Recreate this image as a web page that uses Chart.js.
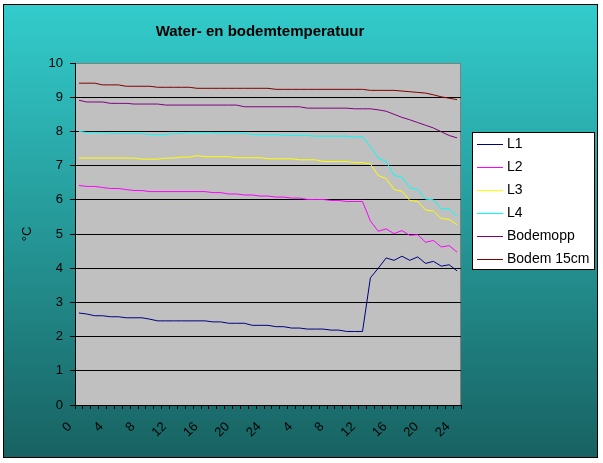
<!DOCTYPE html>
<html>
<head>
<meta charset="utf-8">
<title>Water- en bodemtemperatuur</title>
<script src="https://cdn.jsdelivr.net/npm/chart.js@4.4.0/dist/chart.umd.min.js"></script>
<style>
    body { margin: 0; background: #ffffff; }
    canvas { display: block; }
</style>
</head>
<body>
<canvas id="temp-chart" width="603" height="463"></canvas>
<script>
// uren over twee dagen
const hours = [0, 1, 2, 3, 4, 5, 6, 7, 8, 9, 10, 11, 12, 13, 14, 15, 16, 17, 18, 19, 20, 21, 22, 23, 24,
    1, 2, 3, 4, 5, 6, 7, 8, 9, 10, 11, 12, 13, 14, 15, 16, 17, 18, 19, 20, 21, 22, 23, 24];

const l1 = [2.69, 2.66, 2.61, 2.61, 2.58, 2.58, 2.55, 2.55, 2.55, 2.51,
    2.46, 2.46, 2.46, 2.46, 2.46, 2.46, 2.46, 2.43, 2.43, 2.39,
    2.39, 2.39, 2.33, 2.33, 2.33, 2.29, 2.29, 2.25, 2.25, 2.22,
    2.22, 2.22, 2.19, 2.19, 2.15, 2.15, 2.15, 3.72, 4.00, 4.30,
    4.23, 4.35, 4.23, 4.33, 4.14, 4.20, 4.06, 4.10, 3.92];

const l2 = [6.42, 6.39, 6.39, 6.36, 6.33, 6.33, 6.30, 6.27, 6.27, 6.24,
    6.24, 6.24, 6.24, 6.24, 6.24, 6.24, 6.24, 6.21, 6.21, 6.17,
    6.17, 6.14, 6.14, 6.11, 6.11, 6.08, 6.08, 6.05, 6.05, 6.01,
    6.01, 6.01, 5.98, 5.98, 5.95, 5.95, 5.95, 5.38, 5.08, 5.15,
    5.01, 5.10, 4.96, 4.98, 4.76, 4.81, 4.62, 4.66, 4.47];

const l3 = [7.22, 7.22, 7.22, 7.22, 7.22, 7.22, 7.22, 7.22, 7.19, 7.19,
    7.19, 7.22, 7.22, 7.25, 7.25, 7.29, 7.26, 7.26, 7.26, 7.26,
    7.23, 7.23, 7.23, 7.23, 7.20, 7.20, 7.20, 7.20, 7.17, 7.17,
    7.17, 7.12, 7.12, 7.12, 7.12, 7.09, 7.09, 7.05, 6.71, 6.62,
    6.30, 6.25, 5.98, 5.95, 5.70, 5.67, 5.45, 5.43, 5.27];

const l4 = [8.00, 7.97, 7.97, 7.97, 7.94, 7.94, 7.94, 7.94, 7.94, 7.91,
    7.91, 7.91, 7.94, 7.94, 7.97, 7.97, 7.97, 7.97, 7.95, 7.95,
    7.95, 7.95, 7.91, 7.91, 7.91, 7.91, 7.88, 7.88, 7.88, 7.88,
    7.86, 7.86, 7.86, 7.86, 7.86, 7.83, 7.85, 7.55, 7.22, 7.12,
    6.71, 6.67, 6.35, 6.30, 6.02, 6.00, 5.74, 5.73, 5.52];

const bodemopp = [8.91, 8.86, 8.86, 8.86, 8.82, 8.82, 8.82, 8.80, 8.80, 8.80,
    8.80, 8.77, 8.77, 8.77, 8.77, 8.77, 8.77, 8.77, 8.77, 8.77,
    8.77, 8.72, 8.72, 8.72, 8.72, 8.72, 8.72, 8.72, 8.72, 8.68,
    8.68, 8.68, 8.68, 8.68, 8.68, 8.66, 8.66, 8.66, 8.63, 8.59,
    8.50, 8.41, 8.34, 8.26, 8.18, 8.10, 7.99, 7.88, 7.81];

const bodem15 = [9.41, 9.41, 9.41, 9.36, 9.36, 9.36, 9.32, 9.32, 9.32, 9.32,
    9.29, 9.29, 9.29, 9.29, 9.29, 9.26, 9.26, 9.26, 9.26, 9.26,
    9.26, 9.26, 9.26, 9.26, 9.26, 9.23, 9.23, 9.23, 9.23, 9.23,
    9.23, 9.23, 9.23, 9.23, 9.23, 9.23, 9.23, 9.20, 9.20, 9.20,
    9.20, 9.18, 9.16, 9.14, 9.12, 9.07, 9.01, 8.97, 8.93];

const seriesNames = ['L1', 'L2', 'L3', 'L4', 'Bodemopp', 'Bodem 15cm'];
const seriesColors = ['#000080', '#ff00ff', '#ffff00', '#00ffff', '#800080', '#800000'];
const seriesData = [l1, l2, l3, l4, bodemopp, bodem15];

const chartTitle = 'Water- en bodemtemperatuur';
const fontFamily = '"Liberation Sans", Arial, sans-serif';

// achtergrond met verloop en grijs plotvlak
const backgroundPlugin = {
    id: 'background',
    beforeDraw: function (chart) {
        const ctx = chart.ctx;
        const area = chart.chartArea;
        ctx.save();
        ctx.fillStyle = '#ffffff';
        ctx.fillRect(0, 0, chart.width, chart.height);
        const grad = ctx.createLinearGradient(0, 4, 0, 457);
        grad.addColorStop(0, '#33cccc');
        grad.addColorStop(1, '#186262');
        ctx.fillStyle = grad;
        ctx.fillRect(3, 4, 594, 453);
        ctx.strokeStyle = '#000000';
        ctx.lineWidth = 1;
        ctx.strokeRect(3.5, 4.5, 594, 453);
        ctx.fillStyle = '#c0c0c0';
        ctx.fillRect(area.left, area.top, area.right - area.left, area.bottom - area.top);
        ctx.strokeStyle = '#808080';
        ctx.strokeRect(area.left + 0.5, area.top + 0.5, area.right - area.left - 1, area.bottom - area.top);
        // titel
        ctx.fillStyle = '#000000';
        ctx.font = 'bold 15px ' + fontFamily;
        ctx.textAlign = 'center';
        ctx.textBaseline = 'middle';
        ctx.fillText(chartTitle, 260, 32);
        ctx.restore();
    }
};

// legenda met witte box rechts
const legendBoxPlugin = {
    id: 'legendBox',
    afterDraw: function (chart) {
        const ctx = chart.ctx;
        ctx.save();
        ctx.fillStyle = '#ffffff';
        ctx.fillRect(472, 132, 122, 137);
        ctx.strokeStyle = '#000000';
        ctx.lineWidth = 1;
        ctx.strokeRect(472.5, 132.5, 122, 137);
        ctx.font = '14px ' + fontFamily;
        ctx.textBaseline = 'middle';
        ctx.textAlign = 'left';
        chart.data.datasets.forEach(function (ds, i) {
            const y = 144.5 + i * 23;
            ctx.strokeStyle = ds.borderColor;
            ctx.beginPath();
            ctx.moveTo(477, y);
            ctx.lineTo(503, y);
            ctx.stroke();
            ctx.fillStyle = '#000000';
            ctx.fillText(ds.label, 507, y);
        });
        ctx.restore();
    }
};

function tempChart() {
    try {
        const datasets = seriesNames.map(function (name, i) {
            return {
                label: name,
                data: seriesData[i],
                borderColor: seriesColors[i],
                backgroundColor: seriesColors[i],
                borderWidth: 1,
                pointRadius: 0,
                tension: 0,
                fill: false
            };
        });
        let chart = new Chart(document.getElementById('temp-chart'), {
            type: 'line',
            data: {
                labels: hours,
                datasets: datasets
            },
            options: {
                responsive: false,
                animation: false,
                devicePixelRatio: 1,
                layout: {
                    padding: { left: 0, right: 142, top: 63, bottom: 0 }
                },
                plugins: {
                    legend: { display: false },
                    tooltip: { enabled: false },
                    title: { display: false }
                },
                scales: {
                    x: {
                        offset: true,
                        afterFit: function (scale) { scale.height = 58; },
                        border: { color: '#000000', width: 1 },
                        grid: {
                            offset: true,
                            drawOnChartArea: false,
                            tickLength: 4,
                            color: '#000000'
                        },
                        ticks: {
                            autoSkip: false,
                            minRotation: 45,
                            maxRotation: 45,
                            labelOffset: -9,
                            padding: 10,
                            color: '#000000',
                            font: { size: 13, family: fontFamily },
                            callback: function (value, index) {
                                return index % 4 === 0 ? String(hours[index]) : '';
                            }
                        }
                    },
                    y: {
                        min: 0,
                        max: 10,
                        afterFit: function (scale) { scale.width = 75; },
                        border: { color: '#000000', width: 1 },
                        grid: {
                            color: function (ctx) {
                                return ctx.tick && ctx.tick.value === 10 ? '#808080' : '#000000';
                            },
                            tickColor: '#000000',
                            tickLength: 5
                        },
                        ticks: {
                            stepSize: 1,
                            padding: 7,
                            color: '#000000',
                            font: { size: 13, family: fontFamily }
                        },
                        title: {
                            display: true,
                            text: '°C',
                            color: '#000000',
                            padding: { top: 20, bottom: 0 },
                            font: { size: 13, family: fontFamily }
                        }
                    }
                }
            },
            plugins: [backgroundPlugin, legendBoxPlugin]
        });
    } catch (e) {
        console.log(e);
    }
}

tempChart();
</script>
</body>
</html>
